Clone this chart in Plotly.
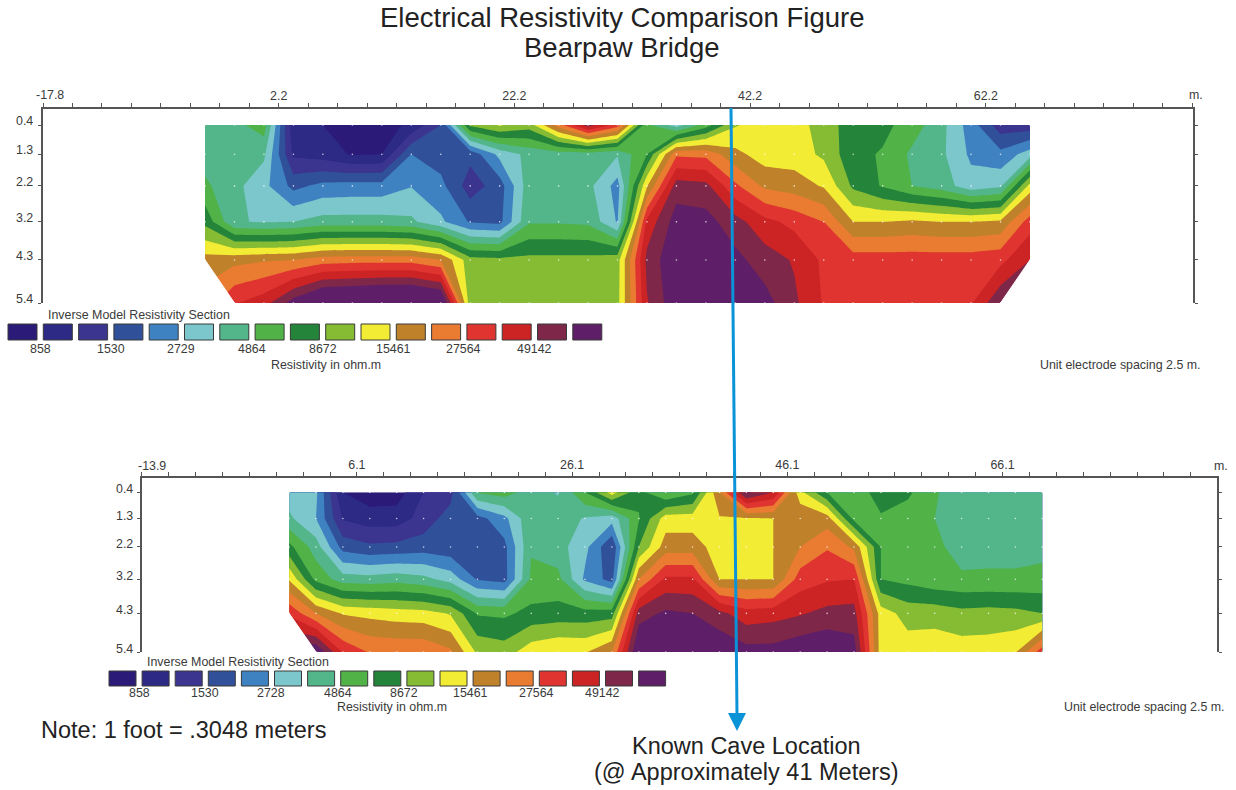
import plotly.graph_objects as go

W, H = 1236, 790

BAND_COLORS = ["#2b1a78", "#2c2a85", "#3b3590", "#31509a", "#3f82c2", "#7bc7cb", "#53b68a", "#50b247", "#23843a",
               "#86bc34", "#f3ec34", "#bf822b", "#e97c31", "#df3430", "#cc2325", "#7e2748", "#5e1f68"]

DEPTH_POS = [0.4, 1.22, 2.11, 3.12, 4.19, 5.4]
DEPTH_LABELS = ["0.4", "1.3", "2.2", "3.2", "4.3", "5.4"]

top_x = [-4.05 + 2.5 * k for k in range(29)]
top_bands = [
    [6.5, 6.7, 7.5, 1.2, 1.0, 0.5, 0.6, 1.2, 3.0, 9.2, 10.1, 9.5, 12.5, 15.5, 13.5, 7.2, 5.5, 7.5, 9.9, 10.6, 10.5, 9.5, 8.5, 8.3, 7.5, 6.3, 4.5, 2.4, 2.4],
    [6.5, 6.4, 6.2, 1.8, 1.5, 0.9, 1.0, 4.0, 3.5, 3.3, 5.3, 6.3, 6.5, 6.5, 6.1, 8.0, 12.8, 12.7, 11.3, 10.5, 10.5, 9.8, 8.3, 7.9, 6.8, 6.2, 4.8, 4.3, 5.5],
    [7.2, 6.3, 5.3, 3.7, 4.3, 4.4, 4.4, 4.95, 4.3, 2.5, 3.5, 6.6, 6.5, 6.3, 4.6, 10.9, 15.5, 15.3, 13.2, 11.8, 11.5, 10.9, 8.8, 7.9, 7.0, 6.5, 5.4, 5.8, 10.4],
    [8.7, 6.1, 5.9, 6.0, 6.4, 6.4, 6.4, 6.2, 5.2, 3.9, 3.7, 6.9, 6.9, 6.8, 4.9, 14.3, 16.5, 16.4, 15.4, 14.3, 13.7, 13.0, 11.0, 11.0, 11.2, 11.0, 11.0, 11.2, 13.5],
    [11.4, 11.7, 11.9, 12.0, 12.5, 12.6, 12.6, 12.6, 12.0, 9.4, 9.3, 9.3, 9.3, 9.3, 9.6, 15.3, 16.9, 16.9, 16.3, 15.5, 14.9, 13.8, 13.5, 13.5, 13.5, 13.5, 13.5, 13.7, 15.0],
    [12.5, 13.9, 14.6, 16.5, 18.0, 18.2, 18.5, 18.5, 17.8, 9.4, 9.5, 9.5, 9.5, 9.5, 9.7, 14.9, 16.8, 16.8, 16.8, 16.4, 15.2, 13.9, 13.4, 13.4, 13.4, 13.4, 13.9, 15.9, 16.5],
]

low_x = [-0.2 + 2.5 * k for k in range(29)]
low_bands = [
    [5.5, 5.2, 1.0, 0.4, 0.5, 2.0, 2.6, 7.1, 7.5, 6.5, 5.9, 8.0, 10.5, 8.3, 7.0, 7.8, 12.0, 16.3, 15.0, 10.3, 8.0, 7.5, 8.4, 8.2, 7.1, 6.5, 6.5, 6.5, 6.5],
    [6.2, 5.0, 1.9, 1.5, 1.5, 2.4, 3.5, 3.6, 4.7, 6.8, 6.6, 5.9, 5.4, 7.9, 10.5, 10.5, 10.9, 10.9, 11.0, 11.9, 11.5, 7.7, 7.9, 7.5, 7.0, 6.5, 6.5, 6.5, 6.5],
    [8.3, 6.5, 3.6, 3.2, 3.3, 3.5, 3.3, 3.3, 3.7, 6.9, 6.4, 5.3, 3.1, 9.0, 11.5, 11.5, 10.5, 10.5, 11.0, 12.0, 12.9, 11.8, 8.0, 7.5, 7.3, 6.5, 6.6, 6.6, 6.7],
    [10.9, 7.7, 6.5, 6.4, 6.6, 6.3, 5.6, 3.9, 3.6, 7.2, 7.3, 4.8, 3.6, 12.0, 14.2, 14.2, 11.0, 11.0, 11.0, 13.5, 13.9, 14.0, 8.0, 7.7, 7.3, 7.2, 7.2, 7.2, 7.3],
    [13.8, 12.0, 10.9, 10.7, 10.5, 10.4, 9.9, 7.9, 7.8, 8.3, 8.4, 8.4, 8.5, 15.5, 16.2, 16.0, 15.3, 14.4, 14.6, 14.9, 15.3, 15.4, 10.5, 9.6, 9.6, 9.3, 9.4, 9.3, 9.0],
    [16.5, 17.0, 13.9, 12.9, 12.8, 12.8, 12.2, 9.8, 9.5, 10.6, 10.99, 10.9, 12.0, 17.2, 17.0, 17.0, 16.9, 16.4, 16.4, 16.8, 17.0, 16.5, 10.5, 10.5, 10.6, 10.5, 10.5, 10.9, 13.6],
]

top_legend_labels = ["858", "1530", "2729", "4864", "8672", "15461", "27564", "49142"]
low_legend_labels = ["858", "1530", "2728", "4864", "8672", "15461", "27564", "49142"]
top_axis_labels = ["", "2.2", "22.2", "42.2", "62.2"]
low_axis_labels = ["", "6.1", "26.1", "46.1", "66.1"]

TXT = "#3a3a3a"
AXC = "#555555"
FONT = "Liberation Sans"

n = len(BAND_COLORS)
scale = []
for k, c in enumerate(BAND_COLORS):
    scale += [[k / n, c], [(k + 1) / n, c]]


def px(x):
    return x / W


def py(y):
    return 1 - y / H


fig = go.Figure()
annotations = []


def section(x, z, xa, ya, x_start, labels, left, right, top, bottom, pxm, ylabel_right, yshift):
    fig.add_trace(go.Contour(x=x, y=DEPTH_POS, z=z, xaxis=xa, yaxis=ya, zmin=0, zmax=n, colorscale=scale,
                             autocontour=False, contours=dict(start=1, end=n - 1, size=1, coloring="fill", showlines=False),
                             line=dict(width=0, smoothing=0), showscale=False, hoverinfo="skip"))
    fig.add_trace(go.Scatter(x=[a for _ in DEPTH_POS for a in x], y=[d for d in DEPTH_POS for _ in x],
                             xaxis=xa, yaxis=ya, mode="markers", hoverinfo="skip", showlegend=False,
                             marker=dict(size=1.6, color="rgba(255,255,255,0.75)")))
    x_end = x_start + (right - left) / pxm
    ticks = [x_start + 2.5 * k for k in range(int((x_end - x_start) / 2.5) + 1)]
    text = [labels[k // 8] if k % 8 == 0 and k // 8 < len(labels) else "" for k in range(len(ticks))]
    layout_x = dict(domain=[px(left), px(right)], range=[x_start, x_end], side="top", anchor=ya, automargin=False,
                    tickvals=ticks, ticktext=text, ticks="outside", ticklen=4, tickwidth=1, tickcolor=AXC,
                    ticklabelstandoff=-2,
                    showline=True, linecolor=AXC, linewidth=1.5, showgrid=False, zeroline=False,
                    tickfont=dict(family=FONT, size=12.4, color=TXT))
    layout_y = dict(domain=[py(bottom), py(top)], range=[5.4, -0.05], anchor=xa, tickvals=DEPTH_POS,
                    showticklabels=False, automargin=False, ticks="outside", ticklen=3, tickwidth=1, tickcolor=AXC,
                    showline=True, linecolor=AXC, linewidth=1.5, mirror="ticks", showgrid=False, zeroline=False)
    for d, t in zip(DEPTH_POS, DEPTH_LABELS):
        annotations.append(dict(xref="paper", yref=ya, x=px(ylabel_right), y=d, text=t, showarrow=False, xanchor="right",
                                yanchor="middle", yshift=yshift, font=dict(family=FONT, size=12.4, color=TXT)))
    return layout_x, layout_y


x1, y1 = section(top_x, top_bands, "x", "y", -17.8, top_axis_labels, 43, 1193, 109, 303, 11.785, 35, 4)
x2, y2 = section(low_x, low_bands, "x2", "y2", -13.9, low_axis_labels, 141.7, 1217, 478, 652, 10.76, 135, 3)

shapes = []


def corner(xa, ya, xs):
    (a, b, c) = xs
    shapes.append(dict(type="path", xref=xa, yref=ya, layer="above", fillcolor="white", line=dict(color="white", width=1),
                       path=f"M {a},{DEPTH_POS[4]} L {b},{DEPTH_POS[5]} L {c},{DEPTH_POS[5]} L {c},{DEPTH_POS[4]} Z"))


corner("x", "y", (top_x[0], top_x[1], top_x[0] - 0.2))
corner("x", "y", (top_x[-1], top_x[-2], top_x[-1] + 0.2))
corner("x2", "y2", (low_x[0], low_x[1], low_x[0] - 0.2))


def note(x, y, text, size, anchor="center", color=TXT):
    annotations.append(dict(xref="paper", yref="paper", x=px(x), y=py(y), text=text, showarrow=False, xanchor=anchor,
                            yanchor="middle", font=dict(family=FONT, size=size, color=color)))


def swatches(x0, w, pitch, y0, y1, labels, label_y):
    for k, c in enumerate(BAND_COLORS):
        a = x0 + pitch * k
        shapes.append(dict(type="rect", xref="paper", yref="paper", x0=px(a), x1=px(a + w), y0=py(y1), y1=py(y0),
                           fillcolor=c, line=dict(color="#3a3a3a", width=1)))
        if k < len(labels) * 2 and k % 2 == 0:
            note(a + w + (pitch - w) / 2, label_y, labels[k // 2], 12.4)


swatches(8, 29, 35.3, 324, 340, top_legend_labels, 349)
swatches(109, 27, 33.1, 671, 686, low_legend_labels, 693)

note(622, 17, "Electrical Resistivity Comparison Figure", 27.5, color="#222222")
note(622, 48, "Bearpaw Bridge", 27.5, color="#222222")
note(50, 95, "-17.8", 12.4)
note(152, 466, "-13.9", 12.4)
note(46, 315, "Inverse Model Resistivity Section", 12.4, "left")
note(326, 365, "Resistivity in ohm.m", 12.4)
note(1202, 365, "Unit electrode spacing 2.5 m.", 12.4, "right")
note(1196, 95, "m.", 12.4)
note(145, 662, "Inverse Model Resistivity Section", 12.4, "left")
note(392, 707, "Resistivity in ohm.m", 12.4)
note(1226, 707, "Unit electrode spacing 2.5 m.", 12.4, "right")
note(1221, 466, "m.", 12.4)
note(39, 730, "Note: 1 foot = .3048 meters", 23.5, "left", "#222222")
note(746, 746, "Known Cave Location", 23.5, color="#222222")
note(746, 772, "(@ Approximately 41 Meters)", 23.5, color="#222222")

BLUE = "#0b93d8"
shapes.append(dict(type="line", xref="paper", yref="paper", x0=px(731), y0=py(108), x1=px(737), y1=py(715),
                   line=dict(color=BLUE, width=3)))
shapes.append(dict(type="path", xref="paper", yref="paper", fillcolor=BLUE, line=dict(color=BLUE, width=0),
                   path=f"M {px(728)},{py(713)} L {px(746)},{py(713)} L {px(737)},{py(731)} Z"))

fig.update_layout(width=W, height=H, margin=dict(l=0, r=0, t=0, b=0), paper_bgcolor="white", plot_bgcolor="white",
                  showlegend=False, xaxis=x1, yaxis=y1, xaxis2=x2, yaxis2=y2, shapes=shapes, annotations=annotations)

fig.write_html("out.html", config=dict(displayModeBar=False),
               post_script="document.body.style.margin='0';document.documentElement.style.overflow='hidden';")
